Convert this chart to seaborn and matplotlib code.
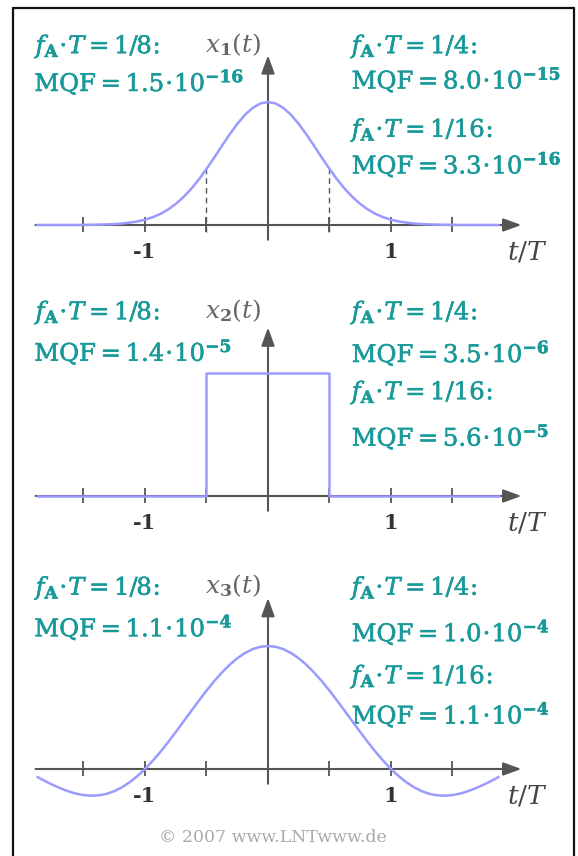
import numpy as np
import matplotlib
matplotlib.use("Agg")
import matplotlib.pyplot as plt
import matplotlib.patheffects as pe
from matplotlib.lines import Line2D
import seaborn as sns

# sample times (t/T)
t_grid = [-1.875, -1.8125, -1.75, -1.6875, -1.625, -1.5625, -1.5, -1.4375,
          -1.375, -1.3125, -1.25, -1.1875, -1.125, -1.0625, -1.0, -0.9375,
          -0.875, -0.8125, -0.75, -0.6875, -0.625, -0.5625, -0.5, -0.4375,
          -0.375, -0.3125, -0.25, -0.1875, -0.125, -0.0625, 0.0, 0.0625,
          0.125, 0.1875, 0.25, 0.3125, 0.375, 0.4375, 0.5, 0.5625,
          0.625, 0.6875, 0.75, 0.8125, 0.875, 0.9375, 1.0, 1.0625,
          1.125, 1.1875, 1.25, 1.3125, 1.375, 1.4375, 1.5, 1.5625,
          1.625, 1.6875, 1.75, 1.8125, 1.875]

# x1(t): gaussian pulse
x1_vals = [0.000, 0.000, 0.000, 0.000, 0.000, 0.000, 0.001, 0.002,
           0.003, 0.005, 0.007, 0.012, 0.019, 0.029, 0.043, 0.063,
           0.090, 0.126, 0.171, 0.227, 0.293, 0.370, 0.456, 0.548,
           0.643, 0.736, 0.822, 0.895, 0.952, 0.988, 1.000, 0.988,
           0.952, 0.895, 0.822, 0.736, 0.643, 0.548, 0.456, 0.370,
           0.293, 0.227, 0.171, 0.126, 0.090, 0.063, 0.043, 0.029,
           0.019, 0.012, 0.007, 0.005, 0.003, 0.002, 0.001, 0.000,
           0.000, 0.000, 0.000, 0.000, 0.000]

# x2(t): rectangle
x2_t = [-1.875, -0.5, -0.5, 0.5, 0.5, 1.875]
x2_vals = [0.0, 0.0, 1.0, 1.0, 0.0, 0.0]

# x3(t): si-shaped pulse
x3_vals = [-0.065, -0.098, -0.129, -0.157, -0.181, -0.200, -0.212, -0.217,
           -0.214, -0.202, -0.180, -0.149, -0.108, -0.058, 0.000, 0.066,
           0.139, 0.218, 0.300, 0.385, 0.471, 0.555, 0.637, 0.714,
           0.784, 0.847, 0.900, 0.943, 0.974, 0.994, 1.000, 0.994,
           0.974, 0.943, 0.900, 0.847, 0.784, 0.714, 0.637, 0.555,
           0.471, 0.385, 0.300, 0.218, 0.139, 0.066, 0.000, -0.058,
           -0.108, -0.149, -0.180, -0.202, -0.214, -0.217, -0.212, -0.200,
           -0.181, -0.157, -0.129, -0.098, -0.065]

signal_names = ["1", "2", "3"]
tick_pos = [-1.5, -1.0, -0.5, 0.5, 1.0, 1.5]
tick_labels = {-1.0: "-1", 1.0: "1"}

# MQF values (mantissa, exponent) for f_A*T = 1/8, 1/4, 1/16
mqf_8 = [("1.5", "-16"), ("1.4", "-5"), ("1.1", "-4")]
mqf_4 = [("8.0", "-15"), ("3.5", "-6"), ("1.0", "-4")]
mqf_16 = [("3.3", "-16"), ("5.6", "-5"), ("1.1", "-4")]

sns.set_style("white")
plt.rcParams["font.family"] = ["DejaVu Serif"]
plt.rcParams["mathtext.fontset"] = "dejavuserif"

teal = "#199999"
blue = "#9a9aff"
axc = "#555555"

W, H = 578, 856
unit = 123.0
x0_px = 268.0
fig = plt.figure(figsize=(W / 100, H / 100), dpi=100)
fig.patch.set_facecolor("white")

bands = [(0, 272, 225), (272, 545, 496), (545, 856, 769)]
curves = [(t_grid, x1_vals), (x2_t, x2_vals), (t_grid, x3_vals)]
y_tip = [1.38, 1.37, 1.39]
txt_y = [(1.45, 1.16, 1.45, 1.18, 0.77, 0.49),
         (1.49, 1.17, 1.49, 1.16, 0.84, 0.48),
         (1.47, 1.15, 1.47, 1.11, 0.75, 0.44)]

thick = [pe.withStroke(linewidth=0.4, foreground=teal)]


def head(frac):
    return r"$f_{\mathbf{A}}\!\cdot\! T = " + frac + r"\!:$"


def mqf(m, e):
    return r"$\mathrm{MQF} = " + m + r"\!\cdot\! 10^{\mathbf{" + e + "}}$"


for i, (top, bot, ax_px) in enumerate(bands):
    ax = fig.add_axes([0, 1 - bot / H, 1, (bot - top) / H])
    ax.set_xlim(-x0_px / unit, (W - x0_px) / unit)
    ax.set_ylim((ax_px - bot) / unit, (ax_px - top) / unit)
    ax.axis("off")

    arrow = dict(arrowstyle="-|>,head_length=1.1,head_width=0.4",
                 color=axc, lw=1.5, mutation_scale=10, shrinkA=0, shrinkB=0)
    ax.annotate("", xy=(2.06, 0), xytext=(-1.89, 0), arrowprops=arrow)
    ax.annotate("", xy=(0, y_tip[i]), xytext=(0, -0.12), arrowprops=arrow)
    ax.vlines(tick_pos, -0.06, 0.065, color=axc, lw=1.3)

    tx, ty = curves[i]
    df = {"t": tx, "x": ty}
    sns.lineplot(data=df, x="t", y="x", ax=ax, color=blue, lw=1.8,
                 estimator=None, sort=False, zorder=5)
    ax.set_xlabel("")
    ax.set_ylabel("")

    if i == 0:
        for tp in (-0.5, 0.5):
            yv = x1_vals[t_grid.index(tp)]
            ax.plot([tp, tp], [-0.06, yv], color=axc, lw=1.0,
                    dashes=(4, 3), zorder=3)

    for tp, lab in tick_labels.items():
        ax.text(tp, -0.22, lab, ha="center", va="center", fontsize=15,
                fontweight="bold", color="#333333")
    ax.text(2.11, -0.22, r"$t/T$", ha="center", va="center", fontsize=19,
            color="#444444")

    ax.text(-0.51, txt_y[i][0] + 0.02, r"$x_{\mathbf{" + signal_names[i] + r"}}(t)$",
            ha="left", va="center", fontsize=18, color="#666666")

    ya, yb, yc, yd, ye, yf = txt_y[i]
    items = [(-1.89, ya, head("1/8")), (-1.90, yb, mqf(*mqf_8[i])),
             (0.68, yc, head("1/4")), (0.68, yd, mqf(*mqf_4[i])),
             (0.68, ye, head("1/16")), (0.68, yf, mqf(*mqf_16[i]))]
    for xx, yy, s in items:
        ax.text(xx, yy, s, ha="left", va="center", fontsize=17.5, color=teal,
                path_effects=thick)

# frame
for xs, ys in [([13, 13], [8, 870]), ([13, 574], [8, 8]), ([574, 574], [8, 870])]:
    fig.add_artist(Line2D([x / W for x in xs], [1 - y / H for y in ys],
                          color="#111111", lw=1.6, transform=fig.transFigure))

fig.text(273 / W, 1 - 838 / H, "\u00a9 2007 www.LNTwww.de", ha="center",
         va="center", fontsize=12.5, color="#aaaaaa")

fig.savefig("out.png", dpi=100)
